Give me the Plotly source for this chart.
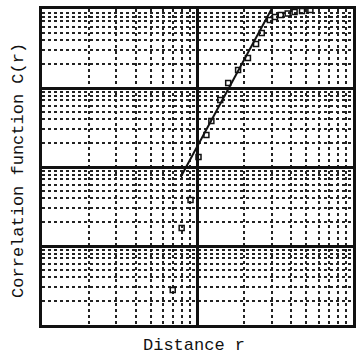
import numpy as np
import plotly.graph_objects as go

# Measured data (distance r, correlation C(r))
r_vals = [6.93, 7.91, 9.02, 10.15, 11.41, 12.28, 14.0, 15.75, 18.24, 21.1,
          23.8, 25.9, 29.2, 31.5, 34.3, 38.0, 42.1, 47.0, 53.2, 60.0,
          68.3, 75.0, 82.6, 90.0, 98.6]
c_vals = [2.77e-4, 1.69e-3, 3.82e-3, 0.0134, 0.0254, 0.0382, 0.0705, 0.1157, 0.169, 0.240,
          0.360, 0.497, 0.726, 0.79, 0.840, 0.88, 0.916, 0.945, 0.971, 1.01,
          1.06, 1.09, 1.12, 1.12, 1.12]

# Power-law fit C = A * r^D
fit_D = 3.64
fit_logA = -5.374
fit_r = [7.8, 31.4]

fit_c = [10 ** (fit_logA + fit_D * np.log10(r)) for r in fit_r]

fig = go.Figure()
fig.add_trace(go.Scatter(x=fit_r, y=fit_c, mode="lines",
                         line=dict(color="#111", width=2), cliponaxis=False,
                         showlegend=False))
fig.add_trace(go.Scatter(x=r_vals, y=c_vals, mode="markers",
                         marker=dict(symbol="square-open", size=5, color="#111",
                                     line=dict(width=1.5, color="#111")),
                         cliponaxis=False, showlegend=False))

axis_common = dict(
    type="log", showticklabels=False, showgrid=True, gridcolor="#111",
    gridwidth=2.5, zeroline=False, showline=True,
    linecolor="#111", linewidth=2.5, mirror=True, ticks="", dtick=1,
    minor=dict(dtick="D1", showgrid=True, gridcolor="#222", gridwidth=1.8,
               griddash="dot", ticks=""),
)

fig.update_layout(
    width=356, height=360,
    margin=dict(l=42, r=0, t=9, b=35),
    paper_bgcolor="white", plot_bgcolor="white",
    xaxis=dict(range=[0, 2], **axis_common),
    yaxis=dict(range=[-4, 0], **axis_common),
    font=dict(family="Liberation Mono", size=17, color="#111"),
    annotations=[
        dict(text="Distance r", xref="paper", yref="paper", x=0.49, y=-0.066,
             xanchor="center", yanchor="middle", showarrow=False,
             font=dict(size=17)),
        dict(text="Correlation function C(r)", xref="paper", yref="paper",
             x=-0.078, y=0.49, xanchor="center", yanchor="middle",
             textangle=-90, showarrow=False, font=dict(size=17)),
    ],
)

fig.write_html("out.html", config={"displayModeBar": False},
               post_script="document.body.style.margin='0';")
